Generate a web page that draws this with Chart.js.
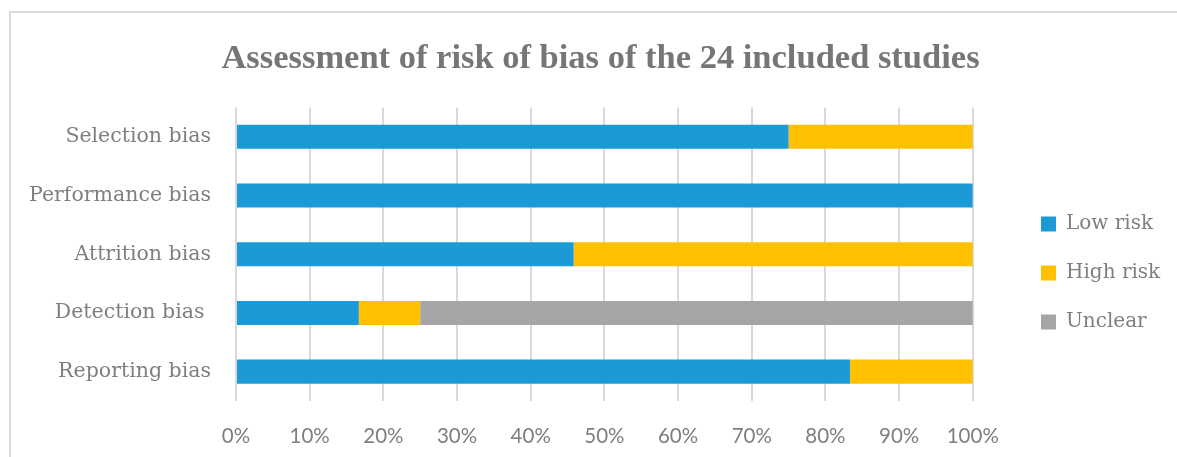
<!DOCTYPE html>
<html>
<head>
<meta charset="utf-8">
<script src="https://cdn.jsdelivr.net/npm/chart.js@4.4.1/dist/chart.umd.min.js"></script>
<style>
  html, body { margin: 0; padding: 0; background: #ffffff; overflow: hidden; }
  #frame { position: absolute; left: 9px; top: 11px; width: 1300px; height: 600px; border: 2px solid #d9d9d9; box-sizing: border-box; }
  #wrap { position: absolute; left: 0; top: 0; width: 1177px; height: 457px; }
</style>
</head>
<body>
<div id="frame"></div>
<div id="wrap"><canvas id="c" width="1177" height="457"></canvas></div>
<script>
const categories = ["Selection bias", "Performance bias", "Attrition bias", "Detection bias ", "Reporting bias"];
const lowRisk  = [75, 100, 45.83, 16.67, 83.33];
const highRisk = [25, 0, 54.17, 8.33, 16.67];
const unclear  = [0, 0, 0, 75, 0];
const tickValues = [0, 10, 20, 30, 40, 50, 60, 70, 80, 90, 100];
const titleText = "Assessment of risk of bias of the 24 included studies";

const serif = "'DejaVu Serif', 'Liberation Serif', serif";
const LEGEND_PAD = 29;

const tweak = {
  id: 'tweak',
  afterLayout(chart) {
    const lg = chart.legend;
    if (lg) {
      const targetLeft = 1042 - LEGEND_PAD - 1;
      const dx = targetLeft - lg.left;
      const h = lg.bottom - lg.top;
      const cy = 273;
      lg.left += dx; lg.right += dx;
      lg.top = cy - h / 2; lg.bottom = cy + h / 2;
    }
    const tb = chart.titleBlock;
    if (tb) {
      const w = tb.right - tb.left;
      const cx = 600.5;
      tb.left = cx - w / 2; tb.right = cx + w / 2;
    }
  }
};

new Chart(document.getElementById('c'), {
  type: 'bar',
  data: {
    labels: categories,
    datasets: [
      { label: 'Low risk', data: lowRisk, backgroundColor: '#1b9ad6' },
      { label: 'High risk', data: highRisk, backgroundColor: '#ffc000' },
      { label: 'Unclear', data: unclear, backgroundColor: '#a5a5a5' }
    ]
  },
  options: {
    indexAxis: 'y',
    responsive: false,
    animation: false,
    barPercentage: 0.41,
    categoryPercentage: 1,
    layout: { padding: { left: 0, right: 46, top: 0, bottom: 11 } },
    scales: {
      x: {
        stacked: true,
        min: 0, max: 100,
        afterBuildTicks(scale) { scale.ticks = tickValues.map(v => ({ value: v })); },
        afterFit(scale) { scale.height = 45; },
        ticks: {
          callback: v => v + '%',
          color: '#7f7f7f',
          font: { family: "Lato, 'Open Sans', sans-serif", size: 20.5 },
          padding: 23,
          maxRotation: 0
        },
        grid: { color: '#d9d9d9', lineWidth: 2, drawTicks: false },
        border: { display: false }
      },
      y: {
        stacked: true,
        afterFit(scale) { scale.width = 236; },
        ticks: {
          color: '#7f7f7f',
          font: { family: serif, size: 20.5 },
          padding: 25
        },
        grid: { display: false, drawTicks: false },
        border: { display: false }
      }
    },
    plugins: {
      title: {
        display: true,
        text: titleText,
        color: '#767676',
        font: { family: "'Liberation Serif', serif", size: 34.5, weight: 'bold' },
        padding: { top: 38, bottom: 28 }
      },
      legend: {
        position: 'right',
        labels: {
          boxWidth: 15,
          boxHeight: 15,
          padding: LEGEND_PAD,
          color: '#7f7f7f',
          font: { family: serif, size: 20 }
        }
      },
      tooltip: { enabled: false }
    }
  },
  plugins: [tweak]
});
</script>
</body>
</html>
